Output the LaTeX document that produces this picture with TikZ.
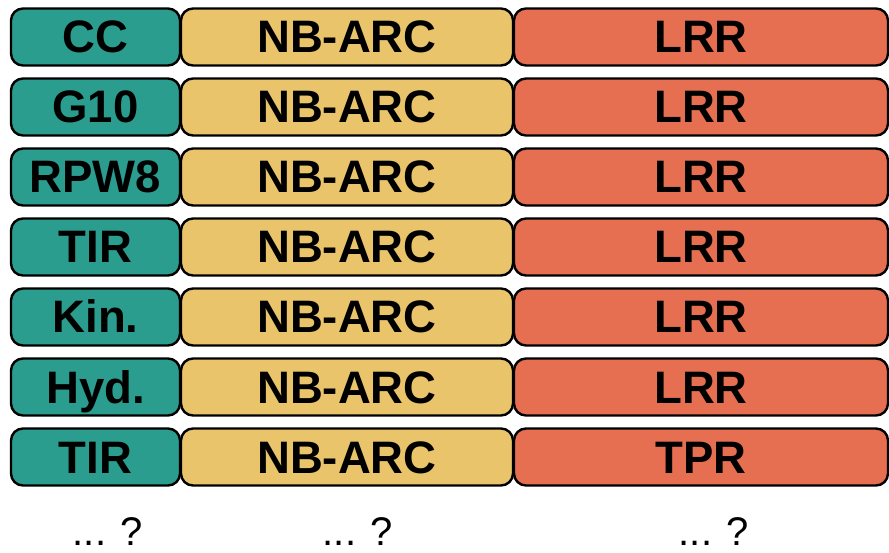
\documentclass[tikz,border=0pt]{standalone}
\usepackage{fontspec}
\setmainfont{Liberation Sans}
\usetikzlibrary{positioning}
\definecolor{domteal}{HTML}{2A9D8F}
\definecolor{domyellow}{HTML}{E9C46A}
\definecolor{domred}{HTML}{E76F51}

\begin{document}
\begin{tikzpicture}[x=1pt, y=-1pt,
    dombox/.style={draw, line width=2.4pt, rounded corners=12pt, minimum height=57pt,
        inner sep=0pt, text height=32pt, text depth=0pt,
        font=\fontsize{45.5}{45.5}\selectfont\bfseries},
    more/.style={inner sep=0pt, anchor=base, font=\fontsize{40}{40}\selectfont}]
    \useasboundingbox (0,0) rectangle (889,553);
    \foreach \i/\first/\last in {0/CC/LRR, 1/G10/LRR, 2/RPW8/LRR, 3/TIR/LRR, 4/Kin./LRR, 5/Hyd./LRR, 6/TIR/TPR} {
        \node[dombox, fill=domteal, minimum width=169pt] (a\i) at (95.5, 37+70*\i) {\first};
        \node[dombox, fill=domyellow, minimum width=332pt] (b\i) at (347, 37+70*\i) {NB-ARC};
        \node[dombox, fill=domred, minimum width=374pt] (c\i) at (701, 37+70*\i) {\last};
    }
    \node[more] (ma) at (108, 545) {... ?};
    \node[more] (mb) at (358, 545) {... ?};
    \node[more] (mc) at (714, 545) {... ?};
\end{tikzpicture}
\end{document}
